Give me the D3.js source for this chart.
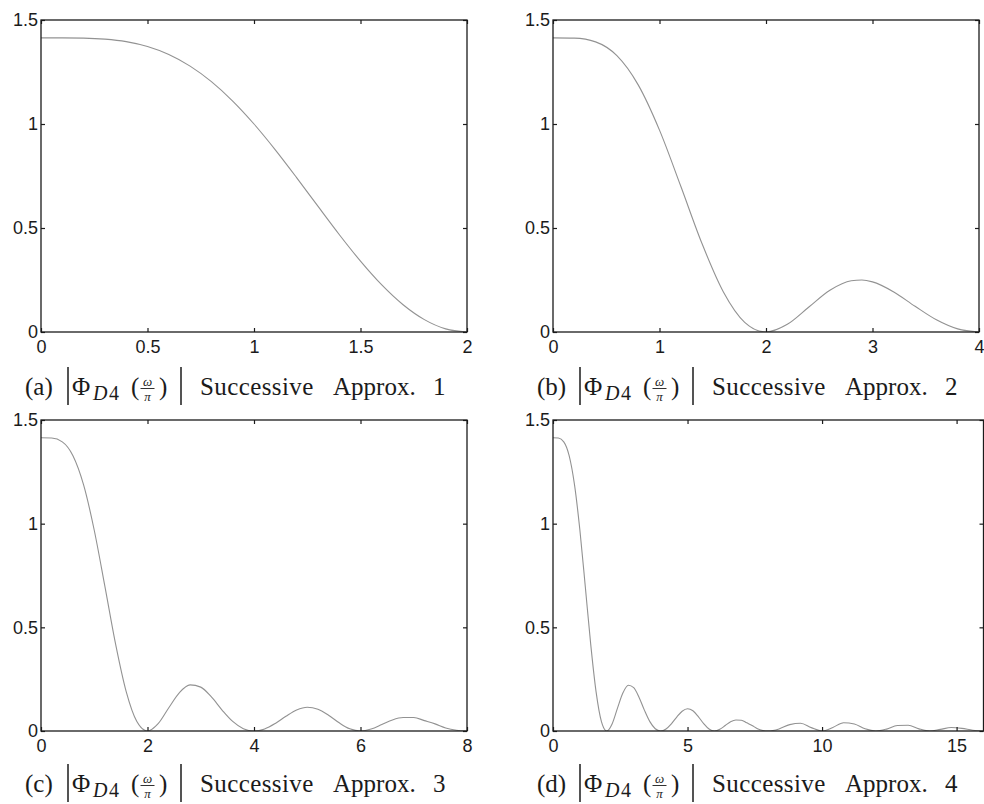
<!DOCTYPE html>
<html>
<head>
<meta charset="utf-8">
<script src="https://cdn.jsdelivr.net/npm/d3@7"></script>
<style>
  html, body { margin: 0; padding: 0; background: #fff; }
  svg { display: block; }
</style>
</head>
<body>
<svg id="fig" width="984" height="804"></svg>
<script>
// |Phi_D4(omega/pi)| after successive cascade approximations 1..4

// approximation 1 : omega/pi in [0, 2]
const omega1 = [0, 0.1, 0.2, 0.3, 0.4, 0.5, 0.6, 0.7, 0.8, 0.9, 1.0,
                1.1, 1.2, 1.3, 1.4, 1.5, 1.6, 1.7, 1.8, 1.9, 2.0];
const mag1 = [1.4142, 1.4141, 1.4130, 1.4081, 1.3960, 1.3725, 1.3342, 1.2784, 1.2037, 1.1103, 1.0000,
              0.8759, 0.7425, 0.6048, 0.4689, 0.3408, 0.2263, 0.1310, 0.0595, 0.0150, 0];

// approximation 2 : omega/pi in [0, 4]
const omega2 = [0, 0.2, 0.4, 0.6, 0.8, 1.0, 1.2, 1.4, 1.6, 1.8, 2.0,
                2.2, 2.4, 2.6, 2.8, 2.9, 3.0, 3.2, 3.4, 3.6, 3.8, 4.0];
const mag2 = [1.4142, 1.4129, 1.3948, 1.3285, 1.1881, 0.9705, 0.7005, 0.4239, 0.1926, 0.0467, 0,
              0.0368, 0.1188, 0.2005, 0.2462, 0.2497, 0.2410, 0.1926, 0.1236, 0.0587, 0.0150, 0];

// approximation 3 : omega/pi in [0, 8]
const omega3 = [0, 0.2, 0.4, 0.6, 0.8, 1.0, 1.2, 1.4, 1.6, 1.8, 2.0,
                2.2, 2.4, 2.6, 2.8, 3.0, 3.2, 3.4, 3.6, 3.8, 4.0,
                4.2, 4.4, 4.6, 4.8, 5.0, 5.2, 5.4, 5.6, 5.8, 6.0,
                6.2, 6.4, 6.6, 6.8, 7.0, 7.2, 7.4, 7.6, 7.8, 8.0];
const mag3 = [1.4142, 1.4129, 1.3947, 1.3279, 1.1871, 0.9682, 0.6974, 0.4203, 0.1901, 0.0457, 0,
              0.0353, 0.1121, 0.1853, 0.2225, 0.2116, 0.1640, 0.1012, 0.0461, 0.0112, 0,
              0.0100, 0.0364, 0.0708, 0.1011, 0.1148, 0.1053, 0.0761, 0.0394, 0.0105, 0,
              0.0094, 0.0308, 0.0535, 0.0649, 0.0650, 0.0500, 0.0344, 0.0148, 0.0038, 0];

// approximation 4 : omega/pi in [0, 16]
const omega4 = [0, 0.2, 0.4, 0.6, 0.8, 1.0, 1.2, 1.4, 1.6, 1.8, 2.0,
                2.2, 2.4, 2.6, 2.8, 3.0, 3.2, 3.4, 3.6, 3.8, 4.0,
                4.2, 4.4, 4.6, 4.8, 5.0, 5.2, 5.4, 5.6, 5.8, 6.0,
                6.2, 6.4, 6.6, 6.8, 7.0, 7.2, 7.4, 7.6, 7.8, 8.0,
                8.4, 8.8, 9.2, 9.6, 10.0, 10.4, 10.8, 11.2, 11.6, 12.0,
                12.4, 12.8, 13.2, 13.6, 14.0, 14.4, 14.8, 15.2, 15.6, 16.0];
const mag4 = [1.4142, 1.4129, 1.3947, 1.3279, 1.1870, 0.9680, 0.6972, 0.4200, 0.1899, 0.0456, 0,
              0.0352, 0.1116, 0.1842, 0.2208, 0.2094, 0.1619, 0.0996, 0.0452, 0.0109, 0,
              0.0096, 0.0349, 0.0674, 0.0954, 0.1073, 0.0974, 0.0696, 0.0356, 0.0094, 0,
              0.0081, 0.0262, 0.0447, 0.0532, 0.0522, 0.0393, 0.0264, 0.0111, 0.0028, 0,
              0.0099, 0.0309, 0.0372, 0.0162, 0, 0.0169, 0.0399, 0.0335, 0.0104, 0,
              0.0092, 0.0262, 0.0277, 0.0104, 0, 0.0080, 0.0166, 0.0126, 0.0037, 0];

// axis ticks
const yTicks = [0, 0.5, 1, 1.5];
const yTickLabels = ["0", "0.5", "1", "1.5"];
const xTicks1 = [0, 0.5, 1, 1.5, 2];
const xTickLabels1 = ["0", "0.5", "1", "1.5", "2"];
const xTicks2 = [0, 1, 2, 3, 4];
const xTickLabels2 = ["0", "1", "2", "3", "4"];
const xTicks3 = [0, 2, 4, 6, 8];
const xTickLabels3 = ["0", "2", "4", "6", "8"];
const xTicks4 = [0, 5, 10, 15];
const xTickLabels4 = ["0", "5", "10", "15"];

// captions
const captionTags = ["(a)", "(b)", "(c)", "(d)"];
const captionNumbers = ["1", "2", "3", "4"];
const captionWords = ["Successive", "Approx."];

const panels = [
  { omega: omega1, mag: mag1, xMax: 2,  ticks: xTicks1, labels: xTickLabels1, l: 41,  r: 467,   t: 20,  b: 332, capY: 395 },
  { omega: omega2, mag: mag2, xMax: 4,  ticks: xTicks2, labels: xTickLabels2, l: 553, r: 979,   t: 20,  b: 332, capY: 395 },
  { omega: omega3, mag: mag3, xMax: 8,  ticks: xTicks3, labels: xTickLabels3, l: 41,  r: 467,   t: 420, b: 731, capY: 792 },
  { omega: omega4, mag: mag4, xMax: 16, ticks: xTicks4, labels: xTickLabels4, l: 553, r: 983.5, t: 420, b: 731, capY: 792 }
];

const svg = d3.select("#fig");
const tickFont = "'Liberation Sans', Arial, Helvetica, sans-serif";
const serif = "'Liberation Serif', 'Times New Roman', serif";
const ink = "#1b1b1b";

panels.forEach((p, i) => {
  const x = d3.scaleLinear().domain([0, p.xMax]).range([p.l, p.r]);
  const y = d3.scaleLinear().domain([0, 1.5]).range([p.b, p.t]);
  const g = svg.append("g");

  const clipId = "clip" + i;
  svg.append("clipPath").attr("id", clipId)
    .append("rect").attr("x", p.l).attr("y", p.t - 2)
    .attr("width", p.r - p.l).attr("height", p.b - p.t + 2);

  // curve
  const line = d3.line()
    .x((d, k) => x(p.omega[k]))
    .y(d => y(d))
    .curve(d3.curveMonotoneX);
  g.append("path")
    .attr("d", line(p.mag))
    .attr("clip-path", `url(#${clipId})`)
    .attr("fill", "none")
    .attr("stroke", "#929292")
    .attr("stroke-width", 1.1);

  // axes with inward ticks on all four sides
  const styleAxis = sel => {
    sel.select(".domain").remove();
    sel.selectAll(".tick line").attr("stroke", ink).attr("stroke-width", 1.2);
    sel.selectAll("text").attr("fill", ink)
      .style("font-family", tickFont).style("font-size", "18px");
  };
  g.append("g").attr("transform", `translate(0,${p.b})`)
    .call(d3.axisBottom(x).tickValues(p.ticks).tickFormat((d, k) => p.labels[k])
      .tickSizeInner(-4).tickSizeOuter(0).tickPadding(8))
    .call(styleAxis);
  g.append("g").attr("transform", `translate(0,${p.t})`)
    .call(d3.axisTop(x).tickValues(p.ticks).tickFormat("")
      .tickSizeInner(-4).tickSizeOuter(0))
    .call(styleAxis);
  g.append("g").attr("transform", `translate(${p.l},0)`)
    .call(d3.axisLeft(y).tickValues(yTicks).tickFormat((d, k) => yTickLabels[k])
      .tickSizeInner(-4).tickSizeOuter(0).tickPadding(3))
    .call(styleAxis);
  g.append("g").attr("transform", `translate(${p.r},0)`)
    .call(d3.axisRight(y).tickValues(yTicks).tickFormat("")
      .tickSizeInner(-4).tickSizeOuter(0))
    .call(styleAxis);

  // frame
  g.append("rect")
    .attr("x", p.l).attr("y", p.t)
    .attr("width", p.r - p.l).attr("height", p.b - p.t)
    .attr("fill", "none").attr("stroke", ink).attr("stroke-width", 1.3);

  // caption: (x) |Phi_{D4}(w/pi)| Successive Approx. n
  const x0 = p.l - 16, by = p.capY;
  const cap = svg.append("g").attr("fill", ink).style("font-family", serif);
  const word = (xx, s) => cap.append("text").attr("x", xx).attr("y", by)
    .style("font-size", "25px").text(s);
  word(x0, captionTags[i]);
  const bar = xx => cap.append("line")
    .attr("x1", xx).attr("x2", xx).attr("y1", by - 28).attr("y2", by + 10)
    .attr("stroke", ink).attr("stroke-width", 1.5);
  bar(x0 + 43);
  word(x0 + 47, "\u03A6");
  const sub = cap.append("text").attr("x", x0 + 68).attr("y", by + 5)
    .style("font-size", "20px").style("letter-spacing", "1.5px");
  sub.append("tspan").style("font-style", "italic").text("D");
  sub.append("tspan").text("4");
  word(x0 + 106, "(");
  cap.append("text").attr("x", x0 + 122.5).attr("y", by - 9).attr("text-anchor", "middle")
    .style("font-size", "13px").style("font-style", "italic").text("\u03C9");
  cap.append("line").attr("x1", x0 + 115.5).attr("x2", x0 + 129.5)
    .attr("y1", by - 6.5).attr("y2", by - 6.5).attr("stroke", ink).attr("stroke-width", 0.9);
  cap.append("text").attr("x", x0 + 122.5).attr("y", by + 6).attr("text-anchor", "middle")
    .style("font-size", "13px").style("font-style", "italic").text("\u03C0");
  word(x0 + 134, ")");
  bar(x0 + 156);
  word(x0 + 175, captionWords[0]).style("letter-spacing", "0.4px");
  word(x0 + 308, captionWords[1]);
  word(x0 + 408, captionNumbers[i]);
});
</script>
</body>
</html>
